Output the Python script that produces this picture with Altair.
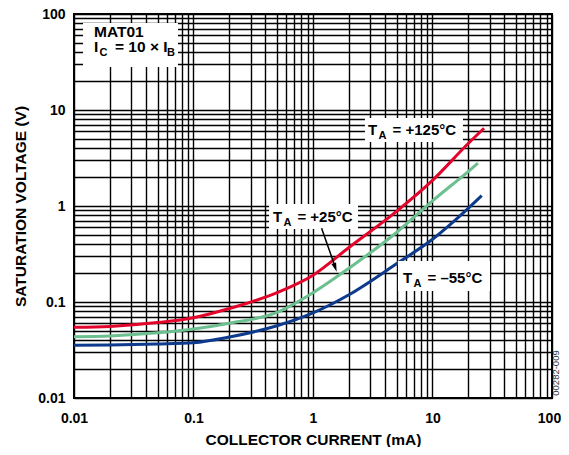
import altair as alt
import pandas as pd

# ---- curve data (collector current mA -> saturation voltage V) ----
i_125 = [0.01, 0.02, 0.05, 0.1, 0.2, 0.5, 1, 2, 5, 10, 20, 27]
v_125 = [0.0545, 0.0557, 0.061, 0.0686, 0.0855, 0.125, 0.19, 0.37, 0.88, 1.85, 4.5, 6.45]
i_25 = [0.01, 0.02, 0.05, 0.1, 0.2, 0.5, 1, 2, 5, 10, 20, 24]
v_25 = [0.0435, 0.0443, 0.0477, 0.0524, 0.0601, 0.078, 0.125, 0.225, 0.53, 1.13, 2.3, 2.79]
i_m55 = [0.01, 0.02, 0.05, 0.1, 0.2, 0.5, 1, 2, 5, 10, 20, 25.8]
v_m55 = [0.0354, 0.0356, 0.0365, 0.0377, 0.0432, 0.0566, 0.077, 0.119, 0.25, 0.45, 0.95, 1.28]
series_names = ["+125°C", "+25°C", "−55°C"]
series_colors = ["#e3042c", "#6cbf8e", "#0d3a8c"]

# ---- axis tick values ----
x_ticks = [round(m * 10 ** e, 6) for e in range(-2, 2) for m in range(1, 10)] + [100]
y_ticks = [round(m * 10 ** e, 6) for e in range(-2, 2) for m in range(1, 10)] + [100]
decades = [0.01, 0.1, 1, 10, 100]

# ---- annotations ----
box_x1 = [0.0119, 2.72, 0.429, 5.14]
box_x2 = [0.0741, 18.0, 2.38, 30.3]
box_y1 = [80.6, 8.26, 1.05, 0.267]
box_y2 = [28.0, 4.64, 0.575, 0.130]

ta_x = [2.89, 0.462, 5.66]
ta_y = [5.50, 0.681, 0.158]
ta_rest = ["= +125°C", "= +25°C", "= –55°C"]

mat_x = [0.0147]
mat_y1 = [57.6]
mat_y2 = [40.2]

arrow_x = [1.18]
arrow_y = [0.586]
arrow_x2 = [1.514]
arrow_y2 = [0.243]
head_x = [1.534]
head_y = [0.229]

FONT = "Liberation Sans"

rows = []
for name, xs, ys in zip(series_names, [i_125, i_25, i_m55], [v_125, v_25, v_m55]):
    for a, b in zip(xs, ys):
        rows.append({"series": name, "i": a, "v": b})
curves = pd.DataFrame(rows)

label_expr = "indexof(%s, datum.value) >= 0 ? datum.label : ''" % str(decades)

xscale = alt.Scale(type="log", domain=[0.01, 100], nice=False)
yscale = alt.Scale(type="log", domain=[0.01, 100], nice=False)

x_axis = alt.Axis(
    values=x_ticks, format="~g", labelExpr=label_expr,
    grid=True, gridColor="black", gridWidth=1.4, gridOpacity=1,
    ticks=False, tickSize=0, domain=False,
    labelFont=FONT, labelFontWeight="bold", labelFontSize=14, labelColor="black",
    labelPadding=24, labelBaseline="alphabetic",
    labelOffset={"condition": {"test": "datum.value == 100", "value": -3}, "value": 0},
    labelOverlap=False, labelFlush=False,
    title="COLLECTOR CURRENT (mA)", titleFont=FONT, titleFontWeight="bold",
    titleFontSize=15.5, titleColor="black", titleX=239, titleY=46,
    titleBaseline="alphabetic", titleAlign="center",
)
y_axis = alt.Axis(
    values=y_ticks, format="~g", labelExpr=label_expr,
    grid=True, gridColor="black", gridWidth=1.4, gridOpacity=1,
    ticks=False, tickSize=0, domain=False,
    labelFont=FONT, labelFontWeight="bold", labelFontSize=14, labelColor="black",
    labelPadding=9, labelOverlap=False, labelFlush=False,
    title="SATURATION VOLTAGE (V)", titleFont=FONT, titleFontWeight="bold",
    titleFontSize=15.5, titleColor="black", titleX=-49, titleY=192,
    titleAngle=270, titleBaseline="alphabetic", titleAlign="center",
)

lines = alt.Chart(curves).mark_line(strokeWidth=3, interpolate="monotone").encode(
    x=alt.X("i:Q", scale=xscale, axis=x_axis),
    y=alt.Y("v:Q", scale=yscale, axis=y_axis),
    color=alt.Color("series:N", scale=alt.Scale(domain=series_names, range=series_colors), legend=None),
    detail="series:N",
)

boxes = alt.Chart(pd.DataFrame({"x1": box_x1, "x2": box_x2, "y1": box_y1, "y2": box_y2})).mark_rect(
    fill="white"
).encode(
    x=alt.X("x1:Q", scale=xscale), x2="x2:Q",
    y=alt.Y("y1:Q", scale=yscale), y2="y2:Q",
)

ta_df = pd.DataFrame({"x": ta_x, "y": ta_y, "rest": ta_rest})
ta_base = alt.Chart(ta_df).encode(
    x=alt.X("x:Q", scale=xscale), y=alt.Y("y:Q", scale=yscale)
)
t_main = ta_base.mark_text(text="T", font=FONT, fontWeight="bold", fontSize=15, align="left",
                           baseline="alphabetic", color="black")
t_sub = ta_base.mark_text(text="A", font=FONT, fontWeight="bold", fontSize=11, align="left",
                          baseline="alphabetic", dx=10.5, dy=4, color="black")
t_rest = ta_base.mark_text(font=FONT, fontWeight="bold", fontSize=15, align="left",
                           baseline="alphabetic", dx=24.5, color="black").encode(text="rest:N")

mat_df = pd.DataFrame({"x": mat_x, "y1": mat_y1, "y2": mat_y2})
mat_b1 = alt.Chart(mat_df).encode(x=alt.X("x:Q", scale=xscale), y=alt.Y("y1:Q", scale=yscale))
mat_b2 = alt.Chart(mat_df).encode(x=alt.X("x:Q", scale=xscale), y=alt.Y("y2:Q", scale=yscale))
txt = dict(font=FONT, fontWeight="bold", align="left", baseline="alphabetic", color="black")
m1 = mat_b1.mark_text(text="MAT01", fontSize=15.5, **txt)
m2 = mat_b2.mark_text(text="I", fontSize=15.5, **txt)
m3 = mat_b2.mark_text(text="C", fontSize=11, dx=5.5, dy=4, **txt)
m4 = mat_b2.mark_text(text="= 10 × I", fontSize=15.5, dx=21, **txt)
m5 = mat_b2.mark_text(text="B", fontSize=11, dx=73, dy=4, **txt)

arrow = alt.Chart(pd.DataFrame({"x": arrow_x, "y": arrow_y, "x2": arrow_x2, "y2": arrow_y2})).mark_rule(
    color="black", strokeWidth=1.5
).encode(
    x=alt.X("x:Q", scale=xscale), y=alt.Y("y:Q", scale=yscale), x2="x2:Q", y2="y2:Q"
)
head = alt.Chart(pd.DataFrame({"x": head_x, "y": head_y})).mark_point(
    shape="M0,1L-0.55,-1L0.55,-1Z", size=81, filled=True, color="black", opacity=1, angle=341
).encode(x=alt.X("x:Q", scale=xscale), y=alt.Y("y:Q", scale=yscale))

code = alt.Chart(pd.DataFrame({"t": ["00282-009"]})).mark_text(
    font=FONT, fontSize=9.5, angle=270, align="center", baseline="middle", color="#333333"
).encode(x=alt.value(482), y=alt.value(359), text="t:N")

chart = alt.layer(
    lines, boxes, t_main, t_sub, t_rest, m1, m2, m3, m4, m5, arrow, head, code
).properties(
    width=478, height=384,
    autosize=alt.AutoSizeParams(type="none"),
    padding={"left": 66, "top": 6, "right": 9, "bottom": 49},
).configure_view(stroke="black", strokeWidth=2)

chart.save("out.html", embed_options={"renderer": "svg", "actions": False})
